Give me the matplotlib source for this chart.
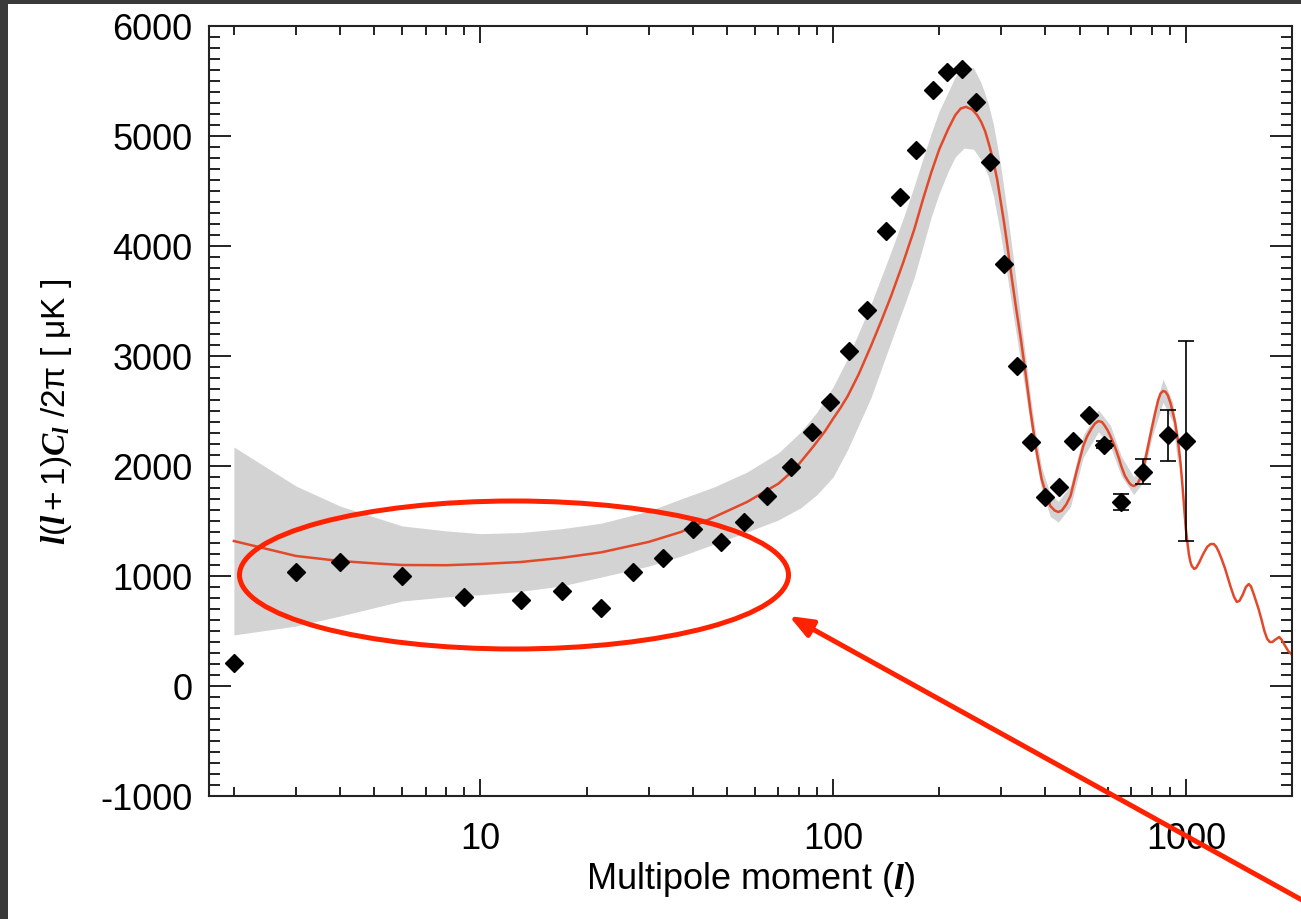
import matplotlib
matplotlib.use("Agg")
import matplotlib.pyplot as plt
from matplotlib.patches import Ellipse, Rectangle
from matplotlib.ticker import FixedLocator, NullFormatter, MultipleLocator

plt.rcParams['font.family'] = ['Liberation Sans', 'DejaVu Sans']
plt.rcParams['mathtext.fontset'] = 'custom'
plt.rcParams['mathtext.it'] = 'Liberation Serif:bold:italic'
plt.rcParams['mathtext.rm'] = 'Liberation Sans'
plt.rcParams['axes.unicode_minus'] = False

# ---- data ----
data_ell = [2, 3, 4, 6, 9, 13, 17, 22, 27, 33, 40, 48, 56, 65, 76, 87, 98, 111, 125,
            141, 155, 172, 192, 210, 232, 254, 278, 305, 332, 363, 398, 436, 478,
            532, 588, 656, 755, 892, 1000]
data_val = [209, 1040, 1127, 1000, 809, 785, 864, 712, 1036, 1160, 1427, 1309, 1491,
            1730, 1990, 2309, 2582, 3045, 3422, 4136, 4445, 4873, 5418, 5582, 5609,
            5313, 4768, 3836, 2909, 2214, 1720, 1809, 2230, 2460, 2195, 1672, 1950,
            2278, 2227]
data_err = [0, 0, 0, 0, 0, 0, 0, 0, 0, 0, 0, 0, 0, 0, 0, 0, 0, 0, 0,
            0, 0, 0, 0, 0, 0, 0, 0, 0, 0, 0, 0, 0, 0,
            0, 35, 70, 115, 232, 905]

model_ell = [2, 3, 4, 5, 6, 8, 10, 13, 17, 22, 30, 37, 46, 57, 70, 78, 88, 95, 100,
             105, 110, 118, 128, 137, 146, 158, 170, 180, 190, 200, 212, 222, 230, 238,
             248, 256, 263, 270, 278, 285, 292, 298, 305, 312, 320, 330, 340, 352, 363,
             376, 390, 402, 413, 425, 435, 445, 458, 471, 490, 512, 525, 540, 552, 565,
             578, 588, 600, 611, 623, 635, 646, 656, 672, 690, 700, 711, 720, 730, 748,
             770, 785, 800, 818, 835, 848, 862, 876, 890, 905, 918, 932, 945, 955, 965,
             975, 985, 1000, 1010, 1020, 1030, 1040, 1057, 1070, 1090, 1120, 1150, 1175,
             1200, 1220, 1240, 1265, 1293, 1320, 1340, 1370, 1395, 1420, 1450, 1480,
             1508, 1530, 1560, 1608, 1640, 1670, 1700, 1730, 1760, 1790, 1840, 1870,
             1900, 1950, 1990]
model_val = [1318, 1182, 1136, 1115, 1100, 1098, 1109, 1127, 1165, 1215, 1310, 1400,
             1536, 1673, 1840, 1975, 2180, 2320, 2430, 2530, 2636, 2830, 3090, 3320,
             3545, 3850, 4155, 4430, 4673, 4880, 5064, 5190, 5250, 5265, 5240, 5190,
             5127, 5040, 4900, 4764, 4600, 4420, 4220, 4000, 3740, 3440, 3170, 2820,
             2490, 2160, 1882, 1740, 1636, 1595, 1582, 1595, 1650, 1727, 1950, 2182,
             2270, 2340, 2385, 2409, 2400, 2370, 2325, 2273, 2210, 2140, 2070, 2000,
             1910, 1850, 1828, 1818, 1825, 1840, 1909, 2080, 2210, 2336, 2480, 2600,
             2660, 2682, 2675, 2640, 2570, 2490, 2400, 2280, 2170, 2036, 1880, 1700,
             1430, 1310, 1200, 1130, 1090, 1064, 1075, 1120, 1200, 1265, 1290, 1291,
             1265, 1220, 1150, 1064, 970, 900, 810, 764, 775, 830, 900, 927, 905, 830,
             700, 600, 500, 430, 400, 400, 420, 445, 420, 380, 320, 291]

band_ell = [2, 3, 4, 6, 8, 10, 13, 17, 22, 30, 37, 46, 57, 70, 81, 90, 100, 110, 128,
            146, 160, 170, 180, 190, 200, 212, 222, 235, 250, 263, 275, 285, 298, 312,
            326, 340, 352, 363, 376, 390, 413, 435, 471, 512, 565, 611, 656, 711, 748,
            800, 862, 918, 950]
band_hi = [2173, 1818, 1636, 1455, 1410, 1385, 1395, 1430, 1480, 1590, 1700, 1810,
           1945, 2120, 2310, 2490, 2720, 2980, 3470, 3950, 4300, 4550, 4800, 5030,
           5230, 5400, 5540, 5630, 5620, 5480, 5300, 5100, 4750, 4300, 3830, 3350,
           2970, 2620, 2280, 1990, 1740, 1680, 1820, 2280, 2510, 2370, 2090, 1900,
           1990, 2420, 2790, 2580, 2250]
band_lo = [464, 545, 636, 773, 810, 830, 860, 910, 990, 1090, 1180, 1290, 1400, 1510,
           1620, 1740, 1900, 2150, 2620, 3130, 3480, 3720, 4000, 4270, 4480, 4680,
           4810, 4890, 4880, 4780, 4640, 4450, 4120, 3720, 3320, 2950, 2650, 2370,
           2060, 1780, 1540, 1490, 1630, 2080, 2310, 2180, 1910, 1740, 1830, 2250,
           2580, 2400, 2000]

x_ticks = [10, 100, 1000]
x_tick_labels = ['10', '100', '1000']
y_ticks = [-1000, 0, 1000, 2000, 3000, 4000, 5000, 6000]

# ---- figure ----
fig = plt.figure(figsize=(13.01, 9.2), dpi=100)
fig.patch.set_facecolor('white')
ax = fig.add_axes([209/1301, 123/920, 1083/1301, 770/920])

ax.fill_between(band_ell, band_lo, band_hi, color='#d3d3d3', lw=0, zorder=1)
ax.plot(model_ell, model_val, color='#e2492a', lw=1.8, zorder=2)
ax.errorbar(data_ell, data_val, yerr=data_err, fmt='none', ecolor='black',
            elinewidth=1.2, capsize=5.5, capthick=1.2, zorder=3)
ax.plot(data_ell, data_val, 'D', color='black', ms=9, zorder=4, lw=0)

ax.set_xscale('log')
ax.set_xlim(1.7, 2000)
ax.set_ylim(-1000, 6000)

ax.xaxis.set_major_locator(FixedLocator(x_ticks))
ax.set_xticklabels(x_tick_labels)
minor = [m * d for d in (1, 10, 100, 1000) for m in range(2, 10) if m * d <= 2000]
ax.xaxis.set_minor_locator(FixedLocator(minor))
ax.xaxis.set_minor_formatter(NullFormatter())
ax.yaxis.set_major_locator(FixedLocator(y_ticks))
ax.yaxis.set_minor_locator(MultipleLocator(100))

ax.tick_params(which='both', direction='in', top=True, right=True, width=1.4,
               color='#222222', labelsize=26)
ax.tick_params(axis='x', which='major', length=12, pad=18)
ax.tick_params(axis='x', which='minor', length=6.5)
ax.tick_params(axis='y', which='major', length=15.5, pad=12)
ax.tick_params(axis='y', which='minor', length=8)
for s in ax.spines.values():
    s.set_linewidth(1.5)
    s.set_color('#222222')

ax.set_xlabel(r'Multipole moment ($\mathit{l}$)', fontsize=26, labelpad=2)
ax.set_ylabel(r'$\mathit{l(l+1)C_l}$ /2π [ μK ]', fontsize=24)
ax.yaxis.set_label_coords(-0.125, 0.5)

# ---- overlay: slide border and annotation ----
ov = fig.add_axes([0, 0, 1, 1], zorder=10)
ov.set_xlim(0, 1301)
ov.set_ylim(920, 0)
ov.axis('off')
ov.patch.set_alpha(0)
ov.add_patch(Rectangle((0, 0), 8, 920, color='#3a3a3a', lw=0))
ov.add_patch(Rectangle((0, 0), 1301, 5, color='#3a3a3a', lw=0))
ov.add_patch(Ellipse((514, 576), 549, 148, fill=False, ec='#ff2200', lw=3.6))
ov.annotate('', xy=(789, 617), xytext=(1320, 911),
            arrowprops=dict(arrowstyle='-|>,head_length=1.4,head_width=0.55',
                            color='#ff2200', lw=3.6, shrinkA=0, shrinkB=0))

fig.savefig('out.png', dpi=100)
